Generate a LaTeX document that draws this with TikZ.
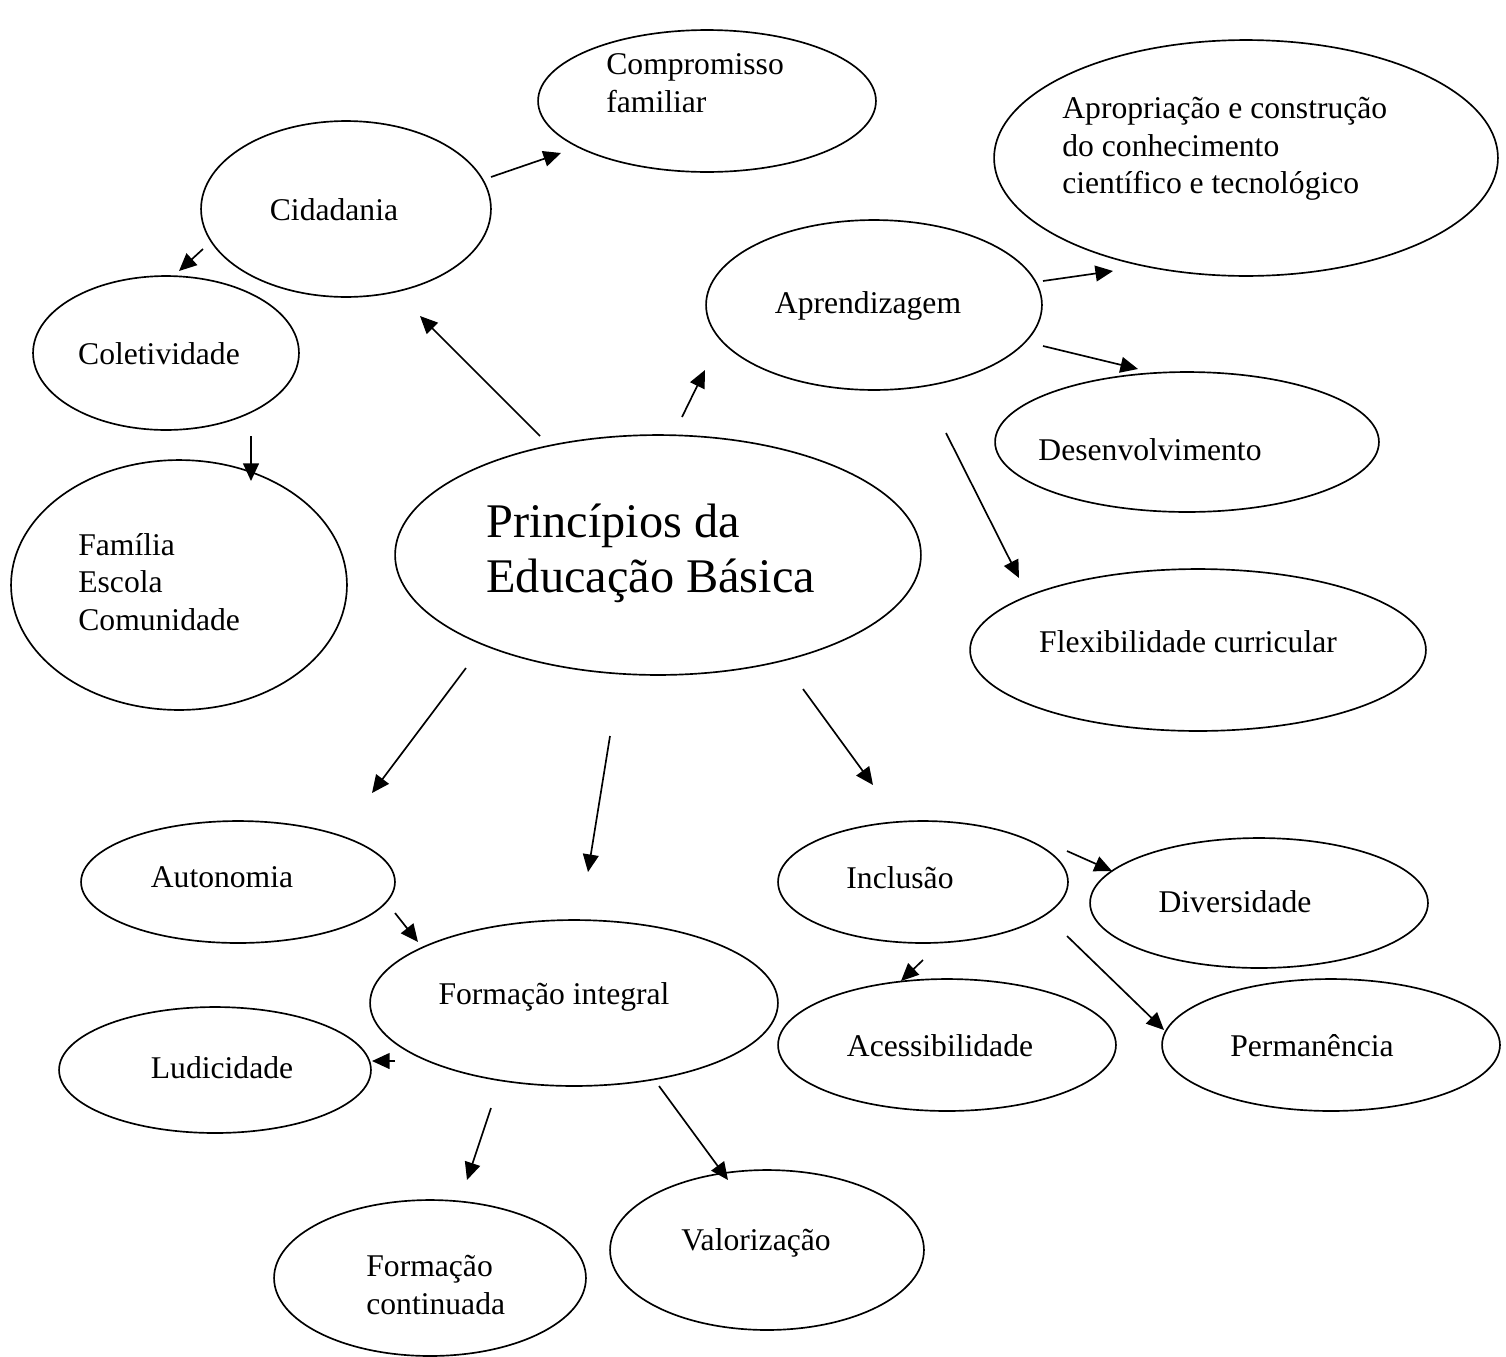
\documentclass[tikz,border=0pt]{standalone}
\usepackage{fontspec}
\setmainfont{Liberation Serif}
\usetikzlibrary{shapes.geometric,arrows.meta}
\tikzset{
  ell/.style={draw=black, line width=0.95pt, ellipse, inner sep=0pt},
  txt/.style={font=\fontsize{18}{21.3}\selectfont, inner sep=0pt, align=left, text=black},
  big/.style={font=\fontsize{27.5}{31.2}\selectfont, inner sep=0pt, align=left, text=black},
  arr/.style={line width=0.95pt, -{Triangle[length=10pt,width=9pt]}}
}
\newcommand{\E}[5]{\node[ell, minimum width=#4*0.04cm, minimum height=#5*0.04cm] (#1) at (#2,#3) {};}
\begin{document}
\begin{tikzpicture}[x=0.02cm,y=-0.02cm]
\useasboundingbox (0,0) rectangle (1506,1356);
% ellipses
\E{comp}{707}{101}{169}{71}
\E{cid}{346}{209}{145}{88}
\E{apro}{1246}{158}{252}{118}
\E{apre}{874}{305}{168}{85}
\E{col}{166}{353}{133}{77}
\E{des}{1187}{442}{192}{70}
\E{fam}{179}{585}{168}{125}
\E{pri}{658}{555}{263}{120}
\E{flex}{1198}{650}{228}{81}
\E{aut}{238}{882}{157}{61}
\E{inc}{923}{882}{145}{61}
\E{div}{1259}{903}{169}{65}
\E{form}{574}{1003}{204}{83}
\E{lud}{215}{1070}{156}{63}
\E{ace}{947}{1045}{169}{66}
\E{perm}{1331}{1045}{169}{66}
\E{fc}{430}{1278}{156}{78}
\E{val}{767}{1250}{157}{80}
% texts
\node[txt, anchor=west] (compT) at (606,83) {Compromisso\\familiar};
\node[txt] (cidT) at (334,210) {Cidadania};
\node[txt, anchor=west] (aproT) at (1062,149) {Apropriação e construção\\do conhecimento\\científico e tecnológico};
\node[txt] (apreT) at (868,306) {Aprendizagem};
\node[txt] (colT) at (159,354) {Coletividade};
\node[txt] (desT) at (1150,450) {Desenvolvimento};
\node[txt, anchor=west] (famT) at (78,582) {Família\\Escola\\Comunidade};
\node[big, anchor=west] (priT) at (486,553) {Princípios da\\Educação Básica};
\node[txt] (flexT) at (1188,642) {Flexibilidade curricular};
\node[txt] (autT) at (222,877) {Autonomia};
\node[txt] (incT) at (900,878) {Inclusão};
\node[txt] (divT) at (1235,902) {Diversidade};
\node[txt] (formT) at (554,997) {Formação integral};
\node[txt] (ludT) at (222,1068) {Ludicidade};
\node[txt] (aceT) at (940,1046) {Acessibilidade};
\node[txt] (permT) at (1312,1046) {Permanência};
\node[txt, anchor=west] (fcT) at (366,1285) {Formação\\continuada};
\node[txt] (valT) at (756,1243) {Valorização};
% arrow end points
\coordinate (a1s) at (491,177);  \coordinate (a1e) at (561,153);
\coordinate (a2s) at (203,249);  \coordinate (a2e) at (179,271);
\coordinate (a3s) at (251,436);  \coordinate (a3e) at (251,481);
\coordinate (a4s) at (540,436);  \coordinate (a4e) at (420,316);
\coordinate (a5s) at (682,417);  \coordinate (a5e) at (705,370);
\coordinate (a6s) at (1043,281); \coordinate (a6e) at (1113,271);
\coordinate (a7s) at (1043,346); \coordinate (a7e) at (1138,369);
\coordinate (a8s) at (946,433);  \coordinate (a8e) at (1019,578);
\coordinate (a9s) at (466,668);  \coordinate (a9e) at (372,793);
\coordinate (a10s) at (610,736); \coordinate (a10e) at (588,872);
\coordinate (a11s) at (803,689); \coordinate (a11e) at (873,785);
\coordinate (a12s) at (395,913); \coordinate (a12e) at (418,942);
\coordinate (a13s) at (395,1061); \coordinate (a13e) at (372,1061);
\coordinate (a14s) at (491,1108); \coordinate (a14e) at (467,1180);
\coordinate (a15s) at (659,1086); \coordinate (a15e) at (728,1180);
\coordinate (a16s) at (1067,851); \coordinate (a16e) at (1112,871);
\coordinate (a17s) at (923,960); \coordinate (a17e) at (901,981);
\coordinate (a18s) at (1067,936); \coordinate (a18e) at (1164,1030);
\foreach \i in {1,...,18} {\draw[arr] (a\i s) -- (a\i e);}
\end{tikzpicture}
\end{document}
